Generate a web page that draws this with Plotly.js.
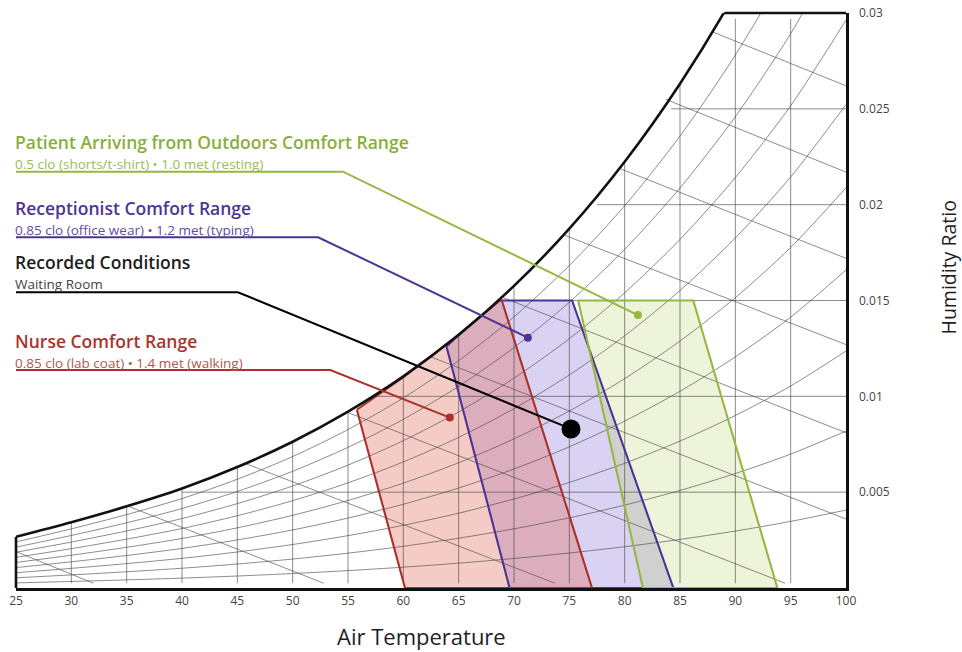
<!DOCTYPE html>
<html>
<head>
<meta charset="utf-8">
<script src="https://cdn.plot.ly/plotly-3.0.1.min.js"></script>
<style>
html,body{margin:0;padding:0;background:#ffffff;}
#chart{width:962px;height:652px;}
</style>
</head>
<body>
<div id="chart"></div>
<script>
// ---------------- data ----------------
const tempTicks = [25,30,35,40,45,50,55,60,65,70,75,80,85,90,95,100];
const humidityTicks = [0.005,0.01,0.015,0.02,0.025,0.03];
const humidityTickText = ['0.005','0.01','0.015','0.02','0.025','0.03'];

// saturation curve (humidity ratio at 100% RH)
const satT = [25,30,35,40,45,50,55,60,65,70,75,80,85,90,95,100];
const satW = [0.00267,0.00343,0.00426,0.00519,0.00631,0.00763,0.00920,0.01104,0.01321,0.01576,0.01875,0.02224,0.02631,0.03105,0.03658,0.04321];
const satTopT = 89;          // where the saturation curve meets 0.03

// relative-humidity curves of the chart grid
const rhLevels = [0.1,0.2,0.3,0.4,0.5,0.6,0.7,0.8,0.9];

// dry-bulb grid lines (end at the saturation curve)
const dryBulbT = [30,35,40,45,50,55,60,65,70,75,80,85,90,95];
// humidity-ratio grid lines
const humidityLinesW = [0.005,0.01,0.015,0.02,0.025];
const humidityLinesStartT = [40,57.5,69,77.5,84.2];

// enthalpy grid lines (start / end points)
const enthStartT = [25,35,45.7,54.8,62.3,68.8,74.6,79.5,83.7,88.0];
const enthStartW = [0.0019,0.0043,0.0065,0.0092,0.0121,0.0152,0.0184,0.0219,0.0255,0.0290];
const enthEndT   = [32.0,52.8,73.7,94.5,100,100,100,100,100,100];
const enthEndW   = [0.00025,0.00025,0.00025,0.00025,0.0036,0.0081,0.0127,0.0172,0.0217,0.0262];

// comfort ranges
const nurseT = [55.8,60,65,68.7,68.9,77.05,60.15];
const nurseW = [0.0093,0.0110,0.0132,0.0150,0.0150,0,0];
const receptionistT = [63.9,65,68.7,75.25,84.4,69.6];
const receptionistW = [0.0126,0.0132,0.0150,0.0150,0,0];
const patientT = [75.8,86.2,93.8,81.65];
const patientW = [0.015,0.015,0,0];

// range markers + recorded condition (patient, receptionist, recorded, nurse)
const markerT = [81.2, 71.25, 75.15, 64.2];
const markerW = [0.01424, 0.01306, 0.0083, 0.00889];

const labelTitles = ['Patient Arriving from Outdoors Comfort Range','Receptionist Comfort Range','Recorded Conditions','Nurse Comfort Range'];
const labelSubtitles = ['0.5 clo (shorts/t-shirt) \u2022 1.0 met (resting)','0.85 clo (office wear) \u2022 1.2 met (typing)','Waiting Room','0.85 clo (lab coat) \u2022 1.4 met (walking)'];

// ---------------- styling / layout constants ----------------
const titleColors = ['#8aae3a','#4e3592','#1c1c1c','#a8352d'];
const subColors   = ['#9cbb55','#5f4ea2','#444444','#b0574f'];
const lineColors  = ['#94b840','#4b3494','#000000','#a83228'];
const markerSizes = [8,8,19,8];
// callout leader lines: level (in humidity units) and elbow temperature
const leaderLevelW = [0.02172,0.01830,0.01543,0.01137];
const leaderElbowT = [54.55,52.3,45.05,53.4];
const labelTopPx = [128.5,194.5,249,328];

const PLOT_TOP = 13, PLOT_BOTTOM = 588, PLOT_LEFT = 16, PLOT_RIGHT = 846;
const pyToPaper = py => (PLOT_BOTTOM - py) / (PLOT_BOTTOM - PLOT_TOP);
const pxToPaper = px => (px - PLOT_LEFT) / (PLOT_RIGHT - PLOT_LEFT);

const FONT = '"Open Sans", Lato, "Noto Sans", sans-serif';

// ---------------- build grid geometry ----------------
const gridX = [], gridY = [];
dryBulbT.forEach(t => {
  const i = satT.indexOf(t);
  gridX.push(t, t, null);
  gridY.push(0.00025, Math.min(satW[i], 0.0297), null);
});
humidityLinesW.forEach((w, i) => {
  gridX.push(humidityLinesStartT[i], 100, null);
  gridY.push(w, w, null);
});
enthStartT.forEach((t, i) => {
  gridX.push(t, enthEndT[i], null);
  gridY.push(enthStartW[i], enthEndW[i], null);
});

const rhX = [], rhY = [];
rhLevels.forEach(phi => {
  satT.forEach((t, i) => {
    const r = satW[i] / (0.622 + satW[i]);
    rhX.push(t);
    rhY.push(0.622 * phi * r / (1 - phi * r));
  });
  rhX.push(null); rhY.push(null);
});

const close = a => a.concat([a[0]]);
const GRID = {color: 'rgba(70,70,70,0.62)', width: 1};

const traces = [];
// fills
[[receptionistT, receptionistW, 'rgba(120,90,210,0.27)'],
 [nurseT, nurseW, 'rgba(225,105,85,0.34)'],
 [patientT, patientW, 'rgba(175,205,80,0.22)']].forEach(p => {
  traces.push({x: close(p[0]), y: close(p[1]), mode: 'lines', fill: 'toself',
    fillcolor: p[2], line: {width: 0}, hoverinfo: 'skip', showlegend: false});
});
// grid
traces.push({x: gridX, y: gridY, mode: 'lines', line: GRID, hoverinfo: 'skip', showlegend: false});
traces.push({x: rhX, y: rhY, mode: 'lines', line: Object.assign({shape: 'spline', smoothing: 0.8}, GRID),
  hoverinfo: 'skip', showlegend: false});
// outlines
[[receptionistT, receptionistW, lineColors[1]],
 [nurseT, nurseW, lineColors[3]],
 [patientT, patientW, lineColors[0]]].forEach(p => {
  traces.push({x: close(p[0]), y: close(p[1]), mode: 'lines',
    line: {color: p[2], width: 2.1}, hoverinfo: 'skip', showlegend: false});
});
// saturation curve
traces.push({x: satT, y: satW, mode: 'lines', line: {color: '#111111', width: 2.6, shape: 'spline', smoothing: 0.8},
  hoverinfo: 'skip', showlegend: false});
// callout leaders + markers
markerT.forEach((t, i) => {
  traces.push({x: [25, leaderElbowT[i], t], y: [leaderLevelW[i], leaderLevelW[i], markerW[i]],
    mode: 'lines', line: {color: lineColors[i], width: 2}, hoverinfo: 'skip', showlegend: false});
});
markerT.forEach((t, i) => {
  traces.push({x: [t], y: [markerW[i]], mode: 'markers',
    marker: {color: lineColors[i], size: markerSizes[i], opacity: 1, line: {width: 0}},
    hoverinfo: 'skip', showlegend: false});
});

// annotations: one block per callout (title line + subtitle line)
const annotations = [];
labelTitles.forEach((txt, i) => {
  const html = '<span style="font-size:17.5px;font-weight:600;color:' + titleColors[i] + '">' + txt + '</span>' +
               '<br><span style="font-size:13.5px;color:' + subColors[i] + '">' + labelSubtitles[i] + '</span>';
  annotations.push({xref: 'paper', yref: 'paper', x: 0, y: pyToPaper(labelTopPx[i]), xanchor: 'left', yanchor: 'top',
    align: 'left', xshift: -2, text: html, showarrow: false, borderpad: 0,
    font: {family: FONT, size: 15, color: titleColors[i]}});
});
annotations.push({xref: 'paper', yref: 'paper', x: pxToPaper(421), y: pyToPaper(636), xanchor: 'center', yanchor: 'middle',
  text: 'Air Temperature', showarrow: false, font: {family: FONT, size: 22, color: '#1e1e1e'}});
annotations.push({xref: 'paper', yref: 'paper', x: pxToPaper(947.5), y: pyToPaper(268), xanchor: 'center', yanchor: 'middle',
  text: 'Humidity Ratio', textangle: -90, showarrow: false, borderpad: 0,
  font: {family: FONT, size: 19.5, color: '#1e1e1e'}});

const layout = {
  width: 962, height: 652,
  margin: {l: PLOT_LEFT, r: 962 - PLOT_RIGHT, t: PLOT_TOP, b: 652 - PLOT_BOTTOM, pad: 0},
  paper_bgcolor: '#ffffff', plot_bgcolor: '#ffffff',
  showlegend: false,
  font: {family: FONT, color: '#444'},
  xaxis: {range: [25, 100], tickvals: tempTicks, ticktext: tempTicks.map(String),
    showgrid: false, zeroline: false, showline: true, linecolor: '#111', linewidth: 2.6,
    ticks: '', tickfont: {family: FONT, size: 12, color: '#444'}, fixedrange: true},
  yaxis: {range: [0, 0.03], side: 'right', tickvals: humidityTicks, ticktext: humidityTickText,
    showgrid: false, zeroline: false, showline: true, linecolor: '#111', linewidth: 2.6,
    ticks: '', ticklabelstandoff: 8, tickfont: {family: FONT, size: 12, color: '#444'}, fixedrange: true},
  shapes: [
    {type: 'line', xref: 'x', yref: 'paper', x0: satTopT, x1: 100, y0: 1, y1: 1, line: {color: '#111', width: 2.6}},
    {type: 'line', xref: 'paper', yref: 'y', x0: 0, x1: 0, y0: 0, y1: satW[0], line: {color: '#111', width: 2.6}}
  ],
  annotations: annotations
};

Plotly.newPlot('chart', traces, layout, {displayModeBar: false, staticPlot: true});
</script>
</body>
</html>
